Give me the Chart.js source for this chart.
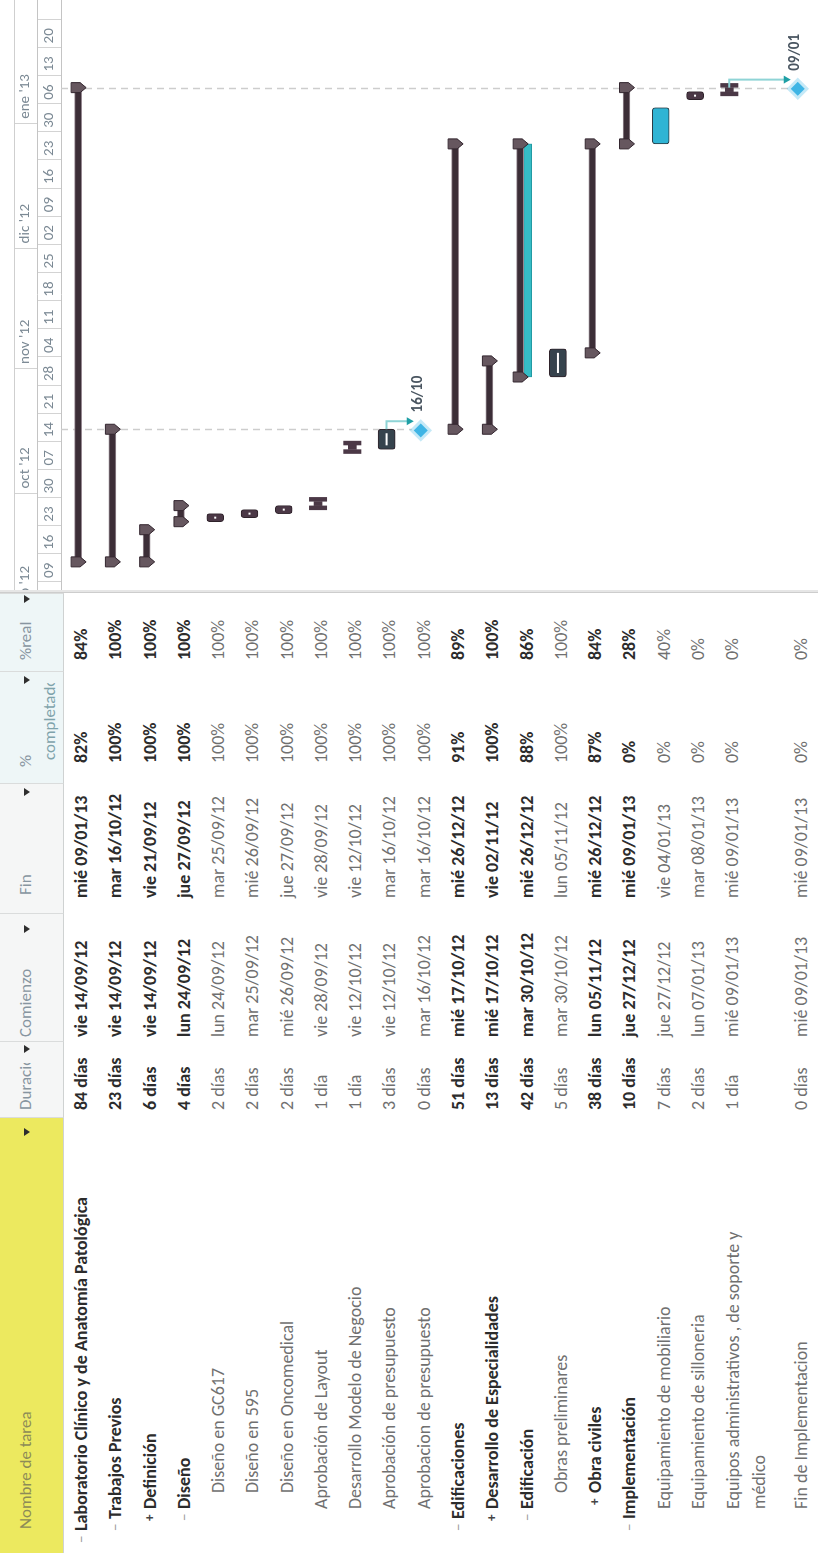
<!DOCTYPE html>
<html lang="es">
<head>
<meta charset="utf-8">
<title>Laboratorio Clínico y de Anatomía Patológica</title>
<script src="https://cdn.jsdelivr.net/npm/chart.js@4.4.1/dist/chart.umd.min.js"></script>
<style>
  html, body { margin: 0; padding: 0; background: #fff; }
  body { width: 818px; height: 1553px; overflow: hidden; position: relative; }
  /* la hoja se dibuja apaisada y se gira como en la captura */
  #hoja {
    position: absolute; left: 0; top: 0; width: 1553px; height: 818px;
    transform-origin: 0 0; transform: translateY(1553px) rotate(-90deg);
    font-family: Calibri, Carlito, Lato, sans-serif; background: #fff; overflow: hidden;
  }
  .cab { position: absolute; top: 0; height: 64px; box-sizing: border-box; background: #f5f6f6;
         border-right: 1px solid #dadcdc; border-bottom: 1px solid #cfd2d2; }
  .cab .t { position: absolute; top: 15px; font-size: 17px; line-height: 22px; color: #8795a0;
            white-space: nowrap; overflow: hidden; }
  .flecha { position: absolute; top: 24px; width: 0; height: 0; border-left: 4px solid transparent;
            border-right: 4px solid transparent; border-top: 6px solid #2e2e2e; }
  .f { position: absolute; white-space: pre; font-size: 18px; color: #707070; }
  .f.res { font-weight: 700; color: #2c2c2c; }
  .sim { position: absolute; font-size: 15px; color: #9a9a9a; }
  .sim.mas { color: #444; font-weight: 700; font-size: 13px; }
  #divisor { position: absolute; left: 960px; top: 0; width: 3px; height: 818px; background: #e6e6e6;
             border-left: 1px solid #cdcdcd; box-sizing: border-box; }
  #gantt { position: absolute; left: 963px; top: 0; }
</style>
</head>
<body>
<div id="hoja">
  <div class="cab" style="left:0;width:436px;background:#ece95f;"><span class="t" style="left:24px;color:#8d8b57;">Nombre de tarea</span><i class="flecha" style="left:417px"></i></div>
  <div class="cab" style="left:436px;width:76px;"><span class="t" style="left:7px;width:47px;">Duración</span><i class="flecha" style="left:64px"></i></div>
  <div class="cab" style="left:512px;width:128px;"><span class="t" style="left:4px;">Comienzo</span><i class="flecha" style="left:108px"></i></div>
  <div class="cab" style="left:640px;width:130px;"><span class="t" style="left:18px;">Fin</span><i class="flecha" style="left:117px"></i></div>
  <div class="cab" style="left:770px;width:112px;background:#eef6f7;"><span class="t" style="left:16px;">%</span><span class="t" style="left:23px;top:39px;width:77px;color:#7fa3ab;">completado</span><i class="flecha" style="left:99px"></i></div>
  <div class="cab" style="left:882px;width:78px;background:#eef6f7;"><span class="t" style="left:11px;">%real</span><i class="flecha" style="left:68px"></i></div>
  <div id="divisor"></div>
  <canvas id="gantt" width="590" height="818"></canvas>
</div>
<script>
// Datos
const tareas = [
  'Laboratorio Clínico y de Anatomía Patológica',
  'Trabajos Previos',
  'Definición',
  'Diseño',
  'Diseño en GC617',
  'Diseño en 595',
  'Diseño en Oncomedical',
  'Aprobación de Layout',
  'Desarrollo Modelo de Negocio',
  'Aprobación de presupuesto',
  'Aprobacion de presupuesto',
  'Edificaciones',
  'Desarrollo de Especialidades',
  'Edificación',
  'Obras preliminares',
  'Obra civiles',
  'Implementación',
  'Equipamiento de mobiliario',
  'Equipamiento de silloneria',
  'Equipos administrativos , de soporte y\nmédico',
  'Fin de Implementacion'
];
const niveles = [0, 1, 2, 2, 3, 3, 3, 2, 2, 2, 2, 1, 2, 2, 3, 3, 1, 2, 2, 2, 2];
const esquema = ['-', '-', '+', '-', '', '', '', '', '', '', '', '-', '+', '-', '', '+', '-', '', '', '', ''];
const duraciones = ['84 días', '23 días', '6 días', '4 días', '2 días', '2 días', '2 días', '1 día', '1 día',
  '3 días', '0 días', '51 días', '13 días', '42 días', '5 días', '38 días', '10 días', '7 días', '2 días',
  '1 día', '0 días'];
const comienzos = ['vie 14/09/12', 'vie 14/09/12', 'vie 14/09/12', 'lun 24/09/12', 'lun 24/09/12',
  'mar 25/09/12', 'mié 26/09/12', 'vie 28/09/12', 'vie 12/10/12', 'vie 12/10/12', 'mar 16/10/12',
  'mié 17/10/12', 'mié 17/10/12', 'mar 30/10/12', 'mar 30/10/12', 'lun 05/11/12', 'jue 27/12/12',
  'jue 27/12/12', 'lun 07/01/13', 'mié 09/01/13', 'mié 09/01/13'];
const fines = ['mié 09/01/13', 'mar 16/10/12', 'vie 21/09/12', 'jue 27/09/12', 'mar 25/09/12',
  'mié 26/09/12', 'jue 27/09/12', 'vie 28/09/12', 'vie 12/10/12', 'mar 16/10/12', 'mar 16/10/12',
  'mié 26/12/12', 'vie 02/11/12', 'mié 26/12/12', 'lun 05/11/12', 'mié 26/12/12', 'mié 09/01/13',
  'vie 04/01/13', 'mar 08/01/13', 'mié 09/01/13', 'mié 09/01/13'];
const completado = ['82%', '100%', '100%', '100%', '100%', '100%', '100%', '100%', '100%', '100%', '100%',
  '91%', '100%', '88%', '100%', '87%', '0%', '0%', '0%', '0%', '0%'];
const real = ['84%', '100%', '100%', '100%', '100%', '100%', '100%', '100%', '100%', '100%', '100%',
  '89%', '100%', '86%', '100%', '84%', '28%', '40%', '0%', '0%', '0%'];
const lineaBase = [null, null, null, null, null, null, null, null, null, null, null, null, null,
  ['30/10/12', '26/12/12'], null, null, null, null, null, null, null];
const vinculos = [[9, 10], [19, 20]];

// escala de tiempo
const semanas = ['09', '16', '23', '30', '07', '14', '21', '28', '04', '11', '18', '25', '02', '09', '16',
  '23', '30', '06', '13', '20'];
const meses = ["sep '12", "oct '12", "nov '12", "dic '12", "ene '13"];
const inicioMeses = ['01/09/12', '01/10/12', '01/11/12', '01/12/12', '01/01/13'];

// estilos y medidas
const FUENTE = 'Calibri, Carlito, Lato, sans-serif';
const FILA = 34.27;
const TOPE = 64;
const sangria = [22, 34, 44, 60];
const resaltadas = [17];
const pizarra = [9, 14];

const dia0 = Date.UTC(2012, 8, 9);
function dia(txt) {
  const [d, m, a] = txt.slice(-8).split('/').map(Number);
  return (Date.UTC(2000 + a, m - 1, d) - dia0) / 864e5;
}

// filas: la tarea de dos líneas ocupa dos ranuras
const filas = [];
const ranuras = [];
tareas.forEach(t => {
  ranuras.push(filas.length);
  filas.push(t.replace('\n', ' '));
  if (t.includes('\n')) filas.push('');
});

// tabla
const hoja = document.getElementById('hoja');
let html = '';
tareas.forEach((t, i) => {
  const top = TOPE + ranuras[i] * FILA;
  const cls = esquema[i] ? 'f res' : 'f';
  const x = sangria[niveles[i]];
  const linea = `top:${top}px;height:${FILA}px;line-height:${FILA}px;`;
  if (esquema[i]) {
    const s = esquema[i] === '+' ? '+' : '−';
    html += `<span class="sim${s === '+' ? ' mas' : ''}" style="left:${x - 12}px;${linea}">${s}</span>`;
  }
  if (t.includes('\n')) {
    html += `<span class="${cls}" style="left:${x}px;top:${top + 5}px;line-height:26px;">${t}</span>`;
  } else {
    html += `<span class="${cls}" style="left:${x}px;${linea}">${t}</span>`;
  }
  html += `<span class="${cls}" style="left:443px;${linea}">${duraciones[i]}</span>`;
  html += `<span class="${cls}" style="left:516px;${linea}">${comienzos[i]}</span>`;
  html += `<span class="${cls}" style="left:655px;${linea}">${fines[i]}</span>`;
  html += `<span class="${cls}" style="left:790px;${linea}">${completado[i]}</span>`;
  html += `<span class="${cls}" style="left:893px;${linea}">${real[i]}</span>`;
});
hoja.insertAdjacentHTML('beforeend', html);

// series del diagrama
const vacio = () => new Array(filas.length).fill(null);
const resumenData = vacio(), baseData = vacio(), tareaData = vacio(), unDiaData = vacio(), hitoData = vacio();
const hitoTexto = vacio();
tareas.forEach((t, i) => {
  const r = ranuras[i];
  const ini = dia(comienzos[i]), fin = dia(fines[i]) + 1;
  if (duraciones[i] === '0 días') {
    hitoData[r] = dia(fines[i]) + 17 / 24;
    hitoTexto[r] = fines[i].slice(4, 9);
  } else if (esquema[i]) resumenData[r] = [ini, fin];
  else if (duraciones[i] === '1 día') unDiaData[r] = [ini, fin];
  else tareaData[r] = [ini, fin];
  if (lineaBase[i]) baseData[r] = [dia(lineaBase[i][0]), dia(lineaBase[i][1]) + 1];
});

function barraEn(chart, r) {
  const fuentes = [[0, resumenData], [2, tareaData], [3, unDiaData]];
  for (const [k, d] of fuentes) if (d[r]) return chart.getDatasetMeta(k).data[r];
}

const decoraciones = {
  id: 'decoraciones',
  beforeDatasetsDraw(chart) {
    const {ctx, chartArea} = chart;
    const hitos = chart.getDatasetMeta(4).data;
    ctx.save();
    ctx.strokeStyle = '#cdcdcd';
    ctx.lineWidth = 1.5;
    ctx.setLineDash([7, 5]);
    hitoData.forEach((v, r) => {
      if (v === null) return;
      const x = Math.round(hitos[r].x) + 0.5;
      ctx.beginPath();
      ctx.moveTo(x, chartArea.top);
      ctx.lineTo(x, hitos[r].y - 9);
      ctx.stroke();
    });
    ctx.restore();
  },
  afterDatasetsDraw(chart) {
    const {ctx} = chart;
    ctx.save();
    // remates de las barras de resumen
    const resumen = chart.getDatasetMeta(0).data;
    ctx.fillStyle = '#66575f';
    ctx.strokeStyle = '#33262f';
    ctx.lineWidth = 1;
    resumenData.forEach((v, r) => {
      if (!v) return;
      const b = resumen[r];
      const top = b.y - 7;
      [Math.min(b.x, b.base), Math.max(b.x, b.base)].forEach(x => {
        ctx.beginPath();
        ctx.moveTo(x - 5, top);
        ctx.lineTo(x + 5, top);
        ctx.lineTo(x + 5, top + 9);
        ctx.lineTo(x, top + 15);
        ctx.lineTo(x - 5, top + 9);
        ctx.closePath();
        ctx.fill();
        ctx.stroke();
      });
    });
    // tareas de un día en forma de I
    const unDia = chart.getDatasetMeta(3).data;
    ctx.fillStyle = '#4b3846';
    unDiaData.forEach((v, r) => {
      if (!v) return;
      const b = unDia[r];
      ctx.fillRect(Math.min(b.x, b.base) - 4.5, b.y - 9, 4.5, 18);
      ctx.fillRect(Math.max(b.x, b.base), b.y - 9, 4.5, 18);
    });
    // marca blanca de las tareas
    const tareasEl = chart.getDatasetMeta(2).data;
    ctx.fillStyle = '#ffffff';
    tareaData.forEach((v, r) => {
      if (!v || resaltadas.includes(tareas.indexOf(filas[r]))) return;
      const b = tareasEl[r];
      const x0 = Math.min(b.x, b.base), x1 = Math.max(b.x, b.base);
      const w = Math.max(2, x1 - x0 - 8);
      ctx.fillRect((x0 + x1) / 2 - w / 2, b.y - 1, w, 2);
    });
    // vínculos hacia los hitos
    const hitos = chart.getDatasetMeta(4).data;
    vinculos.forEach(([a, c]) => {
      const p = barraEn(chart, ranuras[a]);
      const h = hitos[ranuras[c]];
      const xf = Math.max(p.x, p.base);
      const xl = xf + 8;
      ctx.strokeStyle = '#8fd4d6';
      ctx.lineWidth = 2;
      ctx.beginPath();
      ctx.moveTo(xf, p.y);
      ctx.lineTo(xl, p.y);
      ctx.lineTo(xl, h.y - 13);
      ctx.stroke();
      ctx.fillStyle = '#1e9fa5';
      ctx.beginPath();
      ctx.moveTo(xl - 4, h.y - 14);
      ctx.lineTo(xl + 4, h.y - 14);
      ctx.lineTo(xl, h.y - 7);
      ctx.closePath();
      ctx.fill();
    });
    // fechas de los hitos
    ctx.fillStyle = '#4a5661';
    ctx.font = 'bold 15px ' + FUENTE;
    ctx.textBaseline = 'middle';
    ctx.textAlign = 'left';
    hitoData.forEach((v, r) => {
      if (v === null) return;
      ctx.fillText(hitoTexto[r], hitos[r].x + 18, hitos[r].y - 3);
    });
    ctx.restore();
  },
  afterDraw(chart) {
    const {ctx} = chart;
    const s = chart.scales.x2;
    ctx.save();
    ctx.strokeStyle = '#cfcfcf';
    ctx.lineWidth = 1;
    ctx.beginPath();
    ctx.moveTo(0, s.top + 0.5);
    ctx.lineTo(chart.width, s.top + 0.5);
    ctx.stroke();
    ctx.restore();
  }
};

// sin márgenes extra para las etiquetas de los extremos
function ajustarEje(alto) {
  return s => {
    s.height = alto;
    s.paddingLeft = 0;
    s.paddingRight = 0;
  };
}

Chart.defaults.font.family = FUENTE;

const ctx = document.getElementById('gantt').getContext('2d');
const gantt = new Chart(ctx, {
  type: 'bar',
  data: {
    labels: filas,
    datasets: [
      {
        label: 'Resumen', data: resumenData, skipNull: true, barThickness: 7, borderSkipped: false,
        backgroundColor: '#3c2e37', borderColor: '#958891', borderWidth: 1,
      },
      {
        label: 'Línea base', data: baseData, skipNull: true, barThickness: 8, borderSkipped: false,
        backgroundColor: '#36bcc5', borderColor: '#229aa3', borderWidth: 1,
      },
      {
        label: 'Tareas', data: tareaData, skipNull: true, barThickness: 17, borderSkipped: false,
        borderRadius: 3, borderWidth: 1,
        backgroundColor: c => {
          const i = tareas.indexOf(filas[c.dataIndex]);
          if (resaltadas.includes(i)) return '#2fb4d4';
          return pizarra.includes(i) ? '#36434d' : '#4b3846';
        },
        borderColor: c => resaltadas.includes(tareas.indexOf(filas[c.dataIndex])) ? '#2a3c46' : '#2f232b',
      },
      {
        label: 'Tareas de un día', data: unDiaData, skipNull: true, barThickness: 8, borderSkipped: false,
        backgroundColor: '#4b3846',
      },
      {
        type: 'line', label: 'Hitos', data: hitoData, indexAxis: 'y', showLine: false, clip: false,
        pointStyle: 'rectRot', pointRadius: 7, pointBackgroundColor: '#3fb5e5',
        pointBorderColor: 'rgba(63, 181, 229, 0.3)', pointBorderWidth: 6,
      },
    ],
  },
  options: {
    indexAxis: 'y',
    responsive: false,
    animation: false,
    layout: { autoPadding: false, padding: { top: 14, bottom: 3, left: 0, right: 0 } },
    plugins: { legend: { display: false }, tooltip: { enabled: false } },
    scales: {
      y: { display: false },
      x: {
        type: 'linear', position: 'top', min: -2, max: 144.8, bounds: 'data', weight: 0,
        afterBuildTicks: s => { s.ticks = semanas.concat(['']).map((_, k) => ({ value: 7 * k })); },
        afterFit: ajustarEje(24),
        ticks: {
          autoSkip: false, maxRotation: 0, align: 'start', labelOffset: 4, padding: -21,
          color: '#7b8994', font: { size: 15 },
          callback: (v, i) => semanas[i] || '',
        },
        grid: { drawOnChartArea: false, tickLength: 24, color: '#d3d3d3' },
        border: { color: '#c4c4c4' },
      },
      x2: {
        type: 'linear', position: 'top', min: -2, max: 144.8, bounds: 'data', weight: 1,
        afterBuildTicks: s => { s.ticks = inicioMeses.map(f => ({ value: dia(f) })); },
        afterFit: ajustarEje(23),
        ticks: {
          autoSkip: false, maxRotation: 0, align: 'start', labelOffset: 5, padding: -20,
          color: '#7b8994', font: { size: 15 },
          callback: (v, i) => meses[i],
        },
        grid: { drawOnChartArea: false, tickLength: 23, color: '#d3d3d3' },
        border: { color: '#c4c4c4' },
      },
    },
  },
  plugins: [decoraciones],
});
</script>
</body>
</html>
